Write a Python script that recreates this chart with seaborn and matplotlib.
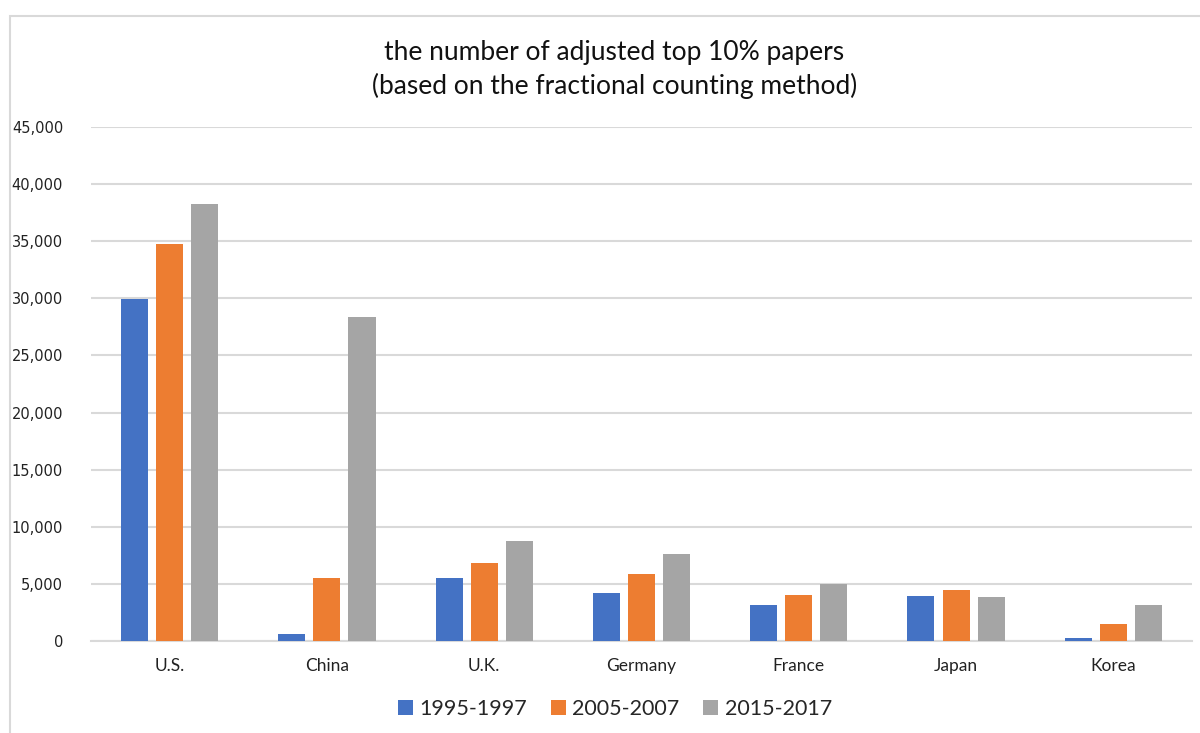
import pandas as pd
import matplotlib
matplotlib.use("Agg")
import matplotlib.pyplot as plt
from matplotlib.patches import Rectangle
import seaborn as sns

# data
countries = ["U.S.", "China", "U.K.", "Germany", "France", "Japan", "Korea"]
periods = ["1995-1997", "2005-2007", "2015-2017"]
v_1995 = [29900, 570, 5530, 4200, 3150, 3950, 300]
v_2005 = [34800, 5500, 6830, 5890, 4000, 4480, 1450]
v_2015 = [38250, 28340, 8720, 7600, 4980, 3870, 3150]
colors = ["#4472C4", "#ED7D31", "#A5A5A5"]

df = pd.DataFrame({
    "Country": countries * 3,
    "Period": [p for p in periods for _ in countries],
    "Papers": v_1995 + v_2005 + v_2015,
})

sns.set_theme(style="white")
plt.rcParams['font.family'] = ['Lato', 'DejaVu Sans']

fig = plt.figure(figsize=(12, 7.33), dpi=100)
ax = fig.add_axes([0.0758, 0.1255, 0.9175, 0.7012])

# chart frame like the spreadsheet border
fig.patches.append(Rectangle((10 / 1200, -0.1), 1.2, 0.978 + 0.1,
                             transform=fig.transFigure, fill=False,
                             edgecolor="#D9D9D9", linewidth=1.5, zorder=0))

sns.barplot(data=df, x="Country", y="Papers", hue="Period", hue_order=periods,
            palette=colors, width=0.67, gap=0.23, ax=ax, legend=True,
            saturation=1, edgecolor="none", zorder=3)

ax.set_ylim(0, 45000)
ax.set_xlim(-0.5, 6.5)
ax.set_yticks(range(0, 45001, 5000))
ax.set_yticklabels([f"{v:,}" for v in range(0, 45001, 5000)],
                   family="DejaVu Sans", fontsize=10.5, color="#222222")
ax.tick_params(axis="y", length=0, pad=20)
ax.tick_params(axis="x", length=0, pad=12, labelsize=12.5, labelcolor="#222222")
ax.grid(axis="y", color="#D9D9D9", linewidth=1.5, zorder=0)
for s in ["top", "right", "left"]:
    ax.spines[s].set_visible(False)
ax.spines["bottom"].set_color("#D9D9D9")
ax.spines["bottom"].set_linewidth(1.5)
ax.set_xlabel("")
ax.set_ylabel("")

fig.text(0.512, 0.928, "the number of adjusted top 10% papers", ha="center",
         va="center", fontsize=19, color="#111111")
fig.text(0.512, 0.883, "(based on the fractional counting method)", ha="center",
         va="center", fontsize=19, color="#111111")

ax.legend(loc="center", bbox_to_anchor=(0.476, -0.133), ncol=3,
          frameon=False, fontsize=15.5, handlelength=0.7, handleheight=0.7,
          handletextpad=0.3, columnspacing=1.1)

fig.savefig("out.png", dpi=100, facecolor="white")
